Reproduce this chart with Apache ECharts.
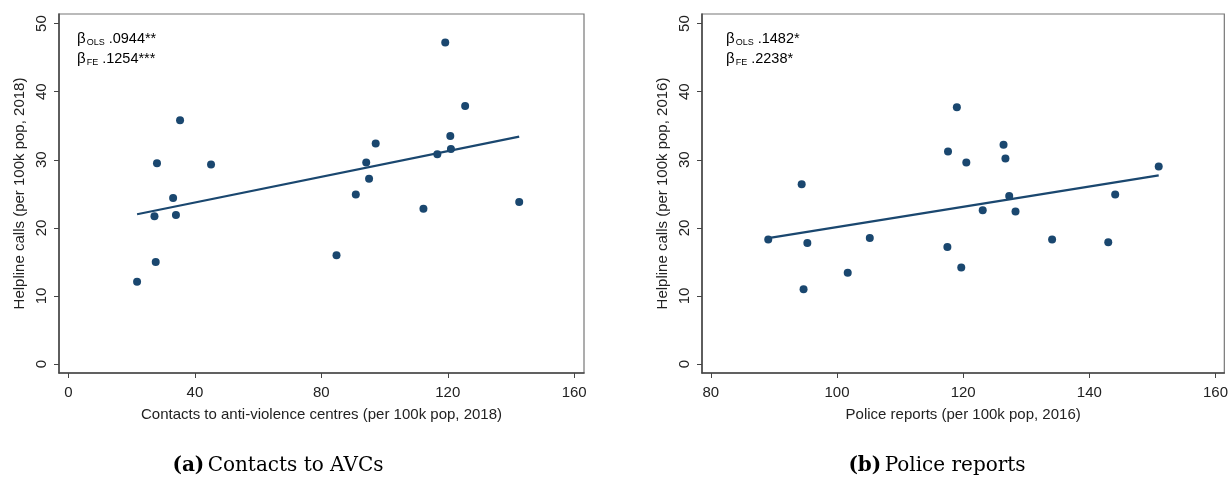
<!DOCTYPE html>
<html>
<head>
<meta charset="utf-8">
<script src="https://cdn.jsdelivr.net/npm/echarts@6/dist/echarts.min.js"></script>
<style>
html,body{margin:0;padding:0;background:#fff;}
#c{width:1231px;height:482px;}
</style>
</head>
<body>
<div id="c"></div>
<script>
// ---- data ----
const avcX = [35.3, 28.0, 45.1, 33.1, 27.2, 34.0, 27.6, 21.7, 119.2, 125.5, 120.8, 97.2, 121.0, 116.7, 94.2, 95.1, 90.9, 142.6, 112.3, 84.8];
const avcY = [35.8, 29.5, 29.3, 24.4, 21.7, 21.9, 15.0, 12.1, 47.2, 37.9, 33.5, 32.4, 31.6, 30.8, 29.6, 27.2, 24.9, 23.8, 22.8, 16.0];
const avcFitX = [21.7, 142.6];
const avcFitY = [22.0, 33.4];

const polX = [94.4, 89.1, 95.3, 105.2, 101.7, 94.7, 119.0, 117.6, 120.5, 126.4, 126.7, 151.0, 127.3, 144.1, 123.1, 128.3, 134.1, 143.0, 117.5, 119.7];
const polY = [26.4, 18.3, 17.8, 18.5, 13.4, 11.0, 37.7, 31.2, 29.6, 32.2, 30.2, 29.0, 24.7, 24.9, 22.6, 22.4, 18.3, 17.9, 17.2, 14.2];
const polFitX = [89.1, 151.0];
const polFitY = [18.5, 27.7];

const yTicks = [0, 10, 20, 30, 40, 50];
const avcXTicks = [0, 40, 80, 120, 160];
const polXTicks = [80, 100, 120, 140, 160];

const avcXName = 'Contacts to anti-violence centres (per 100k pop, 2018)';
const avcYName = 'Helpline calls (per 100k pop, 2018)';
const polXName = 'Police reports (per 100k pop, 2016)';
const polYName = 'Helpline calls (per 100k pop, 2016)';
const avcCoef = ['.0944**', '.1254***'];
const polCoef = ['.1482*', '.2238*'];
const captions = [['(a)', 'Contacts to AVCs'], ['(b)', 'Police reports']];

// ---- chart ----
const navy = '#1a476f';
const font = 'Liberation Sans, Arial, sans-serif';
const zip = (a, b) => a.map((v, i) => [v, b[i]]);

function xAxis(idx, min, max, ticks, name) {
  return {
    type: 'value', gridIndex: idx, min: min, max: max,
    name: name, nameLocation: 'middle', nameGap: 34,
    nameTextStyle: {fontFamily: font, fontSize: 15, color: '#222'},
    splitLine: {show: false},
    axisLine: {show: true, onZero: false, lineStyle: {color: '#444', width: 1.5}},
    axisTick: {show: true, length: 5, customValues: ticks, lineStyle: {color: '#444'}},
    axisLabel: {customValues: ticks, fontFamily: font, fontSize: 15, color: '#222', margin: 12}
  };
}
function yAxis(idx, name) {
  return {
    type: 'value', gridIndex: idx, min: -1.3, max: 51.4,
    name: name, nameLocation: 'middle', nameGap: 32,
    nameTextStyle: {fontFamily: font, fontSize: 15, color: '#222'},
    splitLine: {show: false},
    axisLine: {show: true, onZero: false, lineStyle: {color: '#444', width: 1.5}},
    axisTick: {show: true, length: 5, customValues: yTicks, lineStyle: {color: '#444'}},
    axisLabel: {customValues: yTicks, rotate: 90, fontFamily: font, fontSize: 15, color: '#222', margin: 10}
  };
}
function coefText(x, coefs) {
  const rich = {
    b: {fontFamily: font, fontSize: 15, color: '#333'},
    s: {fontFamily: font, fontSize: 9, color: '#333', verticalAlign: 'bottom', padding: [0, 0, 2, 1]},
    v: {fontFamily: font, fontSize: 14.5, color: '#333'}
  };
  return {
    type: 'text', left: x, top: 29,
    style: {
      text: '{b|β}{s|OLS}{v| ' + coefs[0] + '}\n{b|β}{s|FE}{v| ' + coefs[1] + '}',
      rich: rich, lineHeight: 20
    }
  };
}
function caption(cx, cap) {
  return {
    type: 'text', x: cx, y: 466,
    style: {
      text: '{a|' + cap[0] + '} {t|' + cap[1] + '}',
      align: 'center', verticalAlign: 'middle',
      rich: {
        a: {fontFamily: 'DejaVu Serif, serif', fontWeight: 'bold', fontSize: 20, color: '#111'},
        t: {fontFamily: 'DejaVu Serif, serif', fontSize: 20, color: '#111'}
      }
    }
  };
}

const chart = echarts.init(document.getElementById('c'), null, {renderer: 'canvas'});
chart.setOption({
  backgroundColor: '#fff',
  animation: false,
  grid: [
    {left: 59, right: 647, top: 14, bottom: 109, show: true, borderColor: '#777', borderWidth: 1.2, backgroundColor: '#fff'},
    {left: 702, right: 5, top: 14, bottom: 109, show: true, borderColor: '#777', borderWidth: 1.2, backgroundColor: '#fff'}
  ],
  xAxis: [
    xAxis(0, -3.0, 163.1, avcXTicks, avcXName),
    xAxis(1, 78.6, 161.4, polXTicks, polXName)
  ],
  yAxis: [yAxis(0, avcYName), yAxis(1, polYName)],
  series: [
    {type: 'line', xAxisIndex: 0, yAxisIndex: 0, data: zip(avcFitX, avcFitY), symbol: 'none',
     lineStyle: {color: navy, width: 2.2}, z: 2},
    {type: 'scatter', xAxisIndex: 0, yAxisIndex: 0, data: zip(avcX, avcY), symbolSize: 8,
     itemStyle: {color: navy, opacity: 1}, z: 3},
    {type: 'line', xAxisIndex: 1, yAxisIndex: 1, data: zip(polFitX, polFitY), symbol: 'none',
     lineStyle: {color: navy, width: 2.2}, z: 2},
    {type: 'scatter', xAxisIndex: 1, yAxisIndex: 1, data: zip(polX, polY), symbolSize: 8,
     itemStyle: {color: navy, opacity: 1}, z: 3}
  ],
  graphic: [
    coefText(77, avcCoef),
    coefText(726, polCoef),
    caption(278, captions[0]),
    caption(937, captions[1])
  ]
});
</script>
</body>
</html>
